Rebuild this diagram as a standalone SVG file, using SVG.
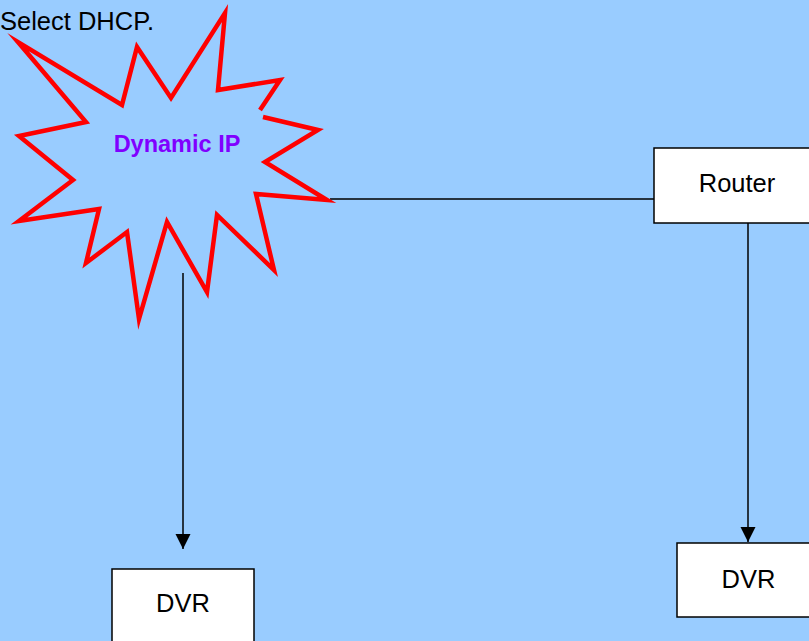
<svg xmlns="http://www.w3.org/2000/svg" width="809" height="641" viewBox="0 0 809 641">
<style>
.box{fill:#fff;stroke:#000;stroke-width:1.5}
.lbl{font-family:"Liberation Sans",Arial,sans-serif;font-size:25.5px;fill:#000;text-anchor:middle}
.conn{stroke:#000;stroke-width:1.5;fill:none}
</style>
<defs>
<marker id="ah" markerUnits="userSpaceOnUse" markerWidth="16" markerHeight="16" viewBox="0 0 16 16" refX="15" refY="8" orient="auto">
<path d="M0,0.5 L15,8 L0,15.5 Z" fill="#000"/>
</marker>
</defs>
<rect width="809" height="641" fill="#99CCFF"/>
<text x="0" y="29.5" font-family="'Liberation Sans',Arial,sans-serif" font-size="25.5px" fill="#000">Select DHCP.</text>
<g id="connectors">
<line class="conn" x1="330" y1="199" x2="654" y2="199"/>
<line class="conn" x1="748" y1="223" x2="748" y2="542" marker-end="url(#ah)"/>
<line class="conn" x1="183" y1="273" x2="183" y2="549" marker-end="url(#ah)"/>
</g>
<g id="dynamic-ip">
<path d="M263,117 L318,130 L265,162 L327,200 L256,194 L274,270 L217,215 L207,292 L167,222 L139,319 L127,232 L86,263 L99,209 L19,221 L73,180 L19,136 L86,122 L18,42 L122,105 L137,47 L171,98 L225,13 L218,90 L280,80 L260,110" fill="none" stroke="#FF0000" stroke-width="4.5" stroke-linejoin="miter" stroke-miterlimit="10"/>
<text x="177" y="152" font-family="'Liberation Sans',Arial,sans-serif" font-size="23.5px" font-weight="bold" fill="#8000FF" text-anchor="middle">Dynamic IP</text>
</g>
<g id="router">
<rect class="box" x="654" y="148" width="170" height="75"/>
<text class="lbl" x="737" y="192">Router</text>
</g>
<g id="dvr-right">
<rect class="box" x="677" y="543" width="150" height="74"/>
<text class="lbl" x="748.5" y="588">DVR</text>
</g>
<g id="dvr-left">
<rect class="box" x="112" y="569" width="142" height="90"/>
<text class="lbl" x="183" y="612">DVR</text>
</g>
</svg>
